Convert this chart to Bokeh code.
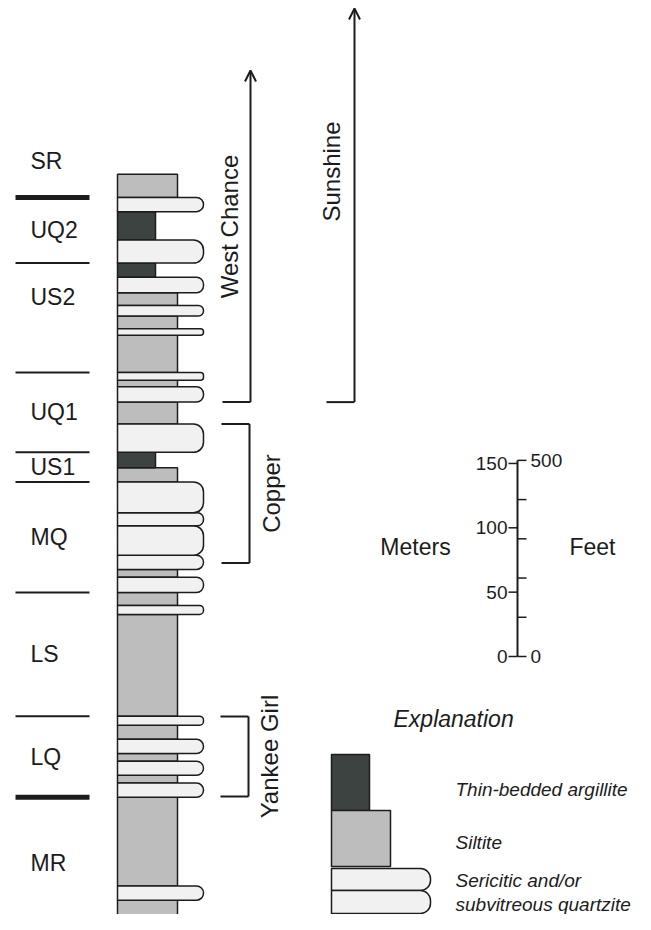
import math
from bokeh.plotting import figure
from bokeh.models import Range1d, Arrow, OpenHead, ColumnDataSource
from bokeh.core.properties import value
from bokeh.embed import file_html
from bokeh.resources import INLINE

# ---------------- data (metres above the base of the drawn column) ----------------
bed_bottom_m = [0, 22, 33, 102, 113, 119, 130, 136, 147, 158, 165, 244, 251, 261, 273,
                279, 290, 313, 323, 347, 358, 370, 392, 409, 421, 426, 432, 461, 466,
                476, 484, 494, 506, 517, 535, 557, 568]
bed_top_m = [22, 33, 102, 113, 119, 130, 136, 147, 158, 165, 244, 251, 261, 273, 279,
             290, 313, 323, 347, 358, 370, 392, 409, 421, 426, 432, 461, 466, 476,
             484, 494, 506, 517, 535, 557, 568, 586]
bed_lith = ["S", "Q", "S", "Q", "S", "Q", "S", "Q", "S", "Q", "S", "Q", "S", "Q", "S",
            "Q", "Q", "Q", "Q", "S", "A", "Q", "S", "Q", "S", "Q", "S", "Q", "S",
            "Q", "S", "Q", "A", "Q", "A", "Q", "S"]

formations = ["MR", "LQ", "LS", "MQ", "US1", "UQ1", "US2", "UQ2", "SR"]
formation_base_m = [0, 102, 165, 261, 347, 370, 432, 517, 568]
major_boundary = [False, True, False, False, False, False, False, False, True]

ore_names = ["West Chance", "Sunshine", "Copper", "Yankee Girl"]
ore_base_m = [409, 409, 284, 102.5]
ore_top_m = [None, None, 392, 164.7]          # None = open-ended upward (arrow)

scale_m_ticks = [0, 50, 100, 150]
scale_ft_ticks = [0, 100, 200, 300, 400, 500]
scale_ft_labels = {0: "0", 500: "500"}

legend_lith = ["A", "S", "Q"]
legend_labels = ["Thin-bedded argillite", "Siltite", "Sericitic and/or\nsubvitreous quartzite"]

# ---------------- layout / style ----------------
PX_PER_M = 1.287
W, H = 635, 914
BASE_PX = 928                     # screen y of column base
y_lo = (BASE_PX - H) / PX_PER_M
y_hi = BASE_PX / PX_PER_M


def m_of(px):
    return (BASE_PX - px) / PX_PER_M


COL_LEFT = 117
RIGHT_EDGE = {"A": 155, "S": 177, "Q": 203}
FILL = {"A": "#3d4341", "S": "#bdbdbd", "Q": "#f1f1f1"}
INK = "#1c1c1c"
FONT = "Liberation Sans"

p = figure(width=W, height=H, x_range=Range1d(0, W), y_range=Range1d(y_lo, y_hi),
           output_backend="svg", toolbar_location=None, min_border=0,
           x_axis_location=None, y_axis_location=None)
p.grid.visible = False
p.outline_line_color = None
p.background_fill_color = "white"
p.border_fill_color = "white"


def quartz(x0, x1, b, t, lw=1.5):
    h_px = (t - b) * PX_PER_M
    r = int(max(1, min(h_px / 2.0, 10)))
    p.quad(left=x0, right=x1, bottom=b, top=t, fill_color=FILL["Q"],
           line_color=INK, line_width=lw, border_radius=(0, r, r, 0))


# ---- column: siltite / argillite blocks ----
for lith in ("S", "A"):
    idx = [i for i, l in enumerate(bed_lith) if l == lith]
    src = ColumnDataSource(dict(
        bottom=[bed_bottom_m[i] for i in idx],
        top=[bed_top_m[i] for i in idx],
        right=[RIGHT_EDGE[lith]] * len(idx)))
    p.quad(left=COL_LEFT, right="right", bottom="bottom", top="top", source=src,
           fill_color=FILL[lith], line_color=INK, line_width=1.5)

# ---- column: quartzite beds ----
for b, t, l in zip(bed_bottom_m, bed_top_m, bed_lith):
    if l == "Q":
        quartz(COL_LEFT, RIGHT_EDGE["Q"], b, t)

# ---- formation boundaries and names ----
LABEL_NUDGE = {"US2": 15.8, "SR": 19.5}
for i, name in enumerate(formations):
    if i > 0:
        p.segment(x0=15, x1=89, y0=formation_base_m[i], y1=formation_base_m[i],
                  line_color=INK, line_width=5 if major_boundary[i] else 2)
    top = formation_base_m[i + 1] if i + 1 < len(formations) else formation_base_m[i] + 18
    y = (formation_base_m[i] + top) / 2.0 + LABEL_NUDGE.get(name, 0)
    p.text(x=[30], y=[y], text=[name], text_font=value(FONT), text_font_size="23px",
           text_color=INK, text_align="left", text_baseline="middle")

# ---- ore zones ----
ORE_LAYOUT = {
    "West Chance": dict(x=250, tx=229, ty=m_of(226), arrow_top=m_of(70)),
    "Sunshine": dict(x=354, tx=331, ty=m_of(171), arrow_top=m_of(8)),
    "Copper": dict(x=249, tx=271, ty=None),
    "Yankee Girl": dict(x=248, tx=269, ty=None),
}
for name, b, t in zip(ore_names, ore_base_m, ore_top_m):
    lay = ORE_LAYOUT[name]
    x = lay["x"]
    if t is None:
        p.segment(x0=x - 28, x1=x, y0=b, y1=b, line_color=INK, line_width=2)
        p.add_layout(Arrow(end=OpenHead(size=11, line_width=2, line_color=INK),
                           x_start=x, y_start=b, x_end=x, y_end=lay["arrow_top"],
                           line_color=INK, line_width=2))
        ty = lay["ty"]
    else:
        p.segment(x0=[x - 28, x, x - 28], x1=[x, x, x], y0=[b, b, t], y1=[b, t, t],
                  line_color=INK, line_width=2)
        ty = (b + t) / 2.0
    p.text(x=[lay["tx"]], y=[ty], text=[name], angle=math.pi / 2,
           text_font=value(FONT), text_font_size="24px", text_color=INK,
           text_align="center", text_baseline="middle")

# ---- scale bar ----
SB_X = 517
SB_BASE = m_of(656)
ft_m = [f * 0.3048 for f in scale_ft_ticks]
p.segment(x0=SB_X, x1=SB_X, y0=SB_BASE, y1=SB_BASE + max(max(scale_m_ticks), max(ft_m)),
          line_color=INK, line_width=2)
p.segment(x0=SB_X - 9, x1=SB_X, y0=[SB_BASE + m for m in scale_m_ticks],
          y1=[SB_BASE + m for m in scale_m_ticks], line_color=INK, line_width=1.5)
p.segment(x0=SB_X, x1=SB_X + 9, y0=[SB_BASE + m for m in ft_m],
          y1=[SB_BASE + m for m in ft_m], line_color=INK, line_width=1.5)
p.text(x=SB_X - 10, y=[SB_BASE + m for m in scale_m_ticks], text=[str(m) for m in scale_m_ticks],
       text_font=value(FONT), text_font_size="19px", text_color=INK,
       text_align="right", text_baseline="middle")
ft_lab = [f for f in scale_ft_ticks if f in scale_ft_labels]
p.text(x=SB_X + 13, y=[SB_BASE + f * 0.3048 for f in ft_lab], text=[scale_ft_labels[f] for f in ft_lab],
       text_font=value(FONT), text_font_size="19px", text_color=INK,
       text_align="left", text_baseline="middle")
p.text(x=[415, 592], y=[SB_BASE + 85, SB_BASE + 85], text=["Meters", "Feet"],
       text_font=value(FONT), text_font_size="23px", text_color=INK,
       text_align="center", text_baseline="middle")

# ---- explanation ----
p.text(x=[393], y=[m_of(718)], text=["Explanation"], text_font=value(FONT),
       text_font_size="23px", text_font_style="italic", text_color=INK,
       text_align="left", text_baseline="middle")
LEG_X = 331
LEG_RIGHT = {"A": 369, "S": 390, "Q": 430}
leg_boxes = {"A": [(810, 754)], "S": [(866, 810)], "Q": [(890, 868), (913, 890)]}
leg_text_px = {"A": [789], "S": [842], "Q": [880, 904]}
for lith, lab in zip(legend_lith, legend_labels):
    for (b_px, t_px) in leg_boxes[lith]:
        b, t = m_of(b_px), m_of(t_px)
        if lith == "Q":
            quartz(LEG_X, LEG_RIGHT["Q"], b, t)
        else:
            p.quad(left=LEG_X, right=LEG_RIGHT[lith], bottom=b, top=t,
                   fill_color=FILL[lith], line_color=INK, line_width=1.5)
    for line, ypx in zip(lab.split("\n"), leg_text_px[lith]):
        p.text(x=[455], y=[m_of(ypx)], text=[line], text_font=value(FONT),
               text_font_size="19px", text_font_style="italic", text_color=INK,
               text_align="left", text_baseline="middle")

open("out.html", "w").write(file_html(p, INLINE))
